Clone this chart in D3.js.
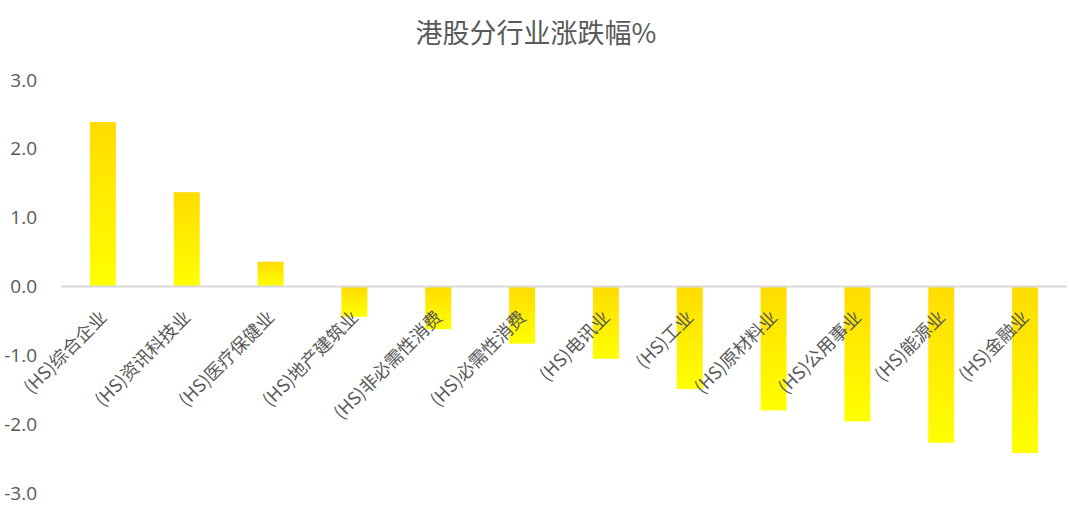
<!DOCTYPE html>
<html>
<head>
<meta charset="utf-8">
<script src="https://cdn.jsdelivr.net/npm/d3@7"></script>
<style>
  html, body { margin: 0; padding: 0; background: #fff; }
  svg { display: block; }
  text { font-family: "Microsoft YaHei", "Noto Sans CJK SC", "Noto Sans", sans-serif; fill: #595959; }
</style>
</head>
<body>
<svg id="chart" width="1071" height="513"></svg>
<script>
const title = "港股分行业涨跌幅%";
const categories = ["(HS)综合企业", "(HS)资讯科技业", "(HS)医疗保健业", "(HS)地产建筑业", "(HS)非必需性消费", "(HS)必需性消费", "(HS)电讯业", "(HS)工业", "(HS)原材料业", "(HS)公用事业", "(HS)能源业", "(HS)金融业"];
const values = [2.39, 1.37, 0.36, -0.44, -0.62, -0.83, -1.05, -1.49, -1.80, -1.96, -2.27, -2.42];
const yTicks = [3, 2, 1, 0, -1, -2, -3];

const svg = d3.select("#chart");
const plotLeft = 61, plotRight = 1067, plotTop = 80, plotBottom = 493;

const defs = svg.append("defs");
const grad = defs.append("linearGradient").attr("id", "barGrad")
  .attr("x1", 0).attr("y1", 0).attr("x2", 0).attr("y2", 1);
grad.append("stop").attr("offset", "0%").attr("stop-color", "#FFDC00");
grad.append("stop").attr("offset", "100%").attr("stop-color", "#FFFF00");

const x = d3.scaleBand().domain(categories).range([plotLeft, plotRight]).paddingInner(0.69).paddingOuter(0.345);
const y = d3.scaleLinear().domain([-3, 3]).range([plotBottom, plotTop]);

// title
svg.append("text").attr("x", 536).attr("y", 43).attr("text-anchor", "middle")
  .style("font-size", "27px").text(title);

// y axis labels
const yAxis = d3.axisLeft(y).tickValues(yTicks).tickFormat(d => d.toFixed(1)).tickSize(0).tickPadding(0);
const gy = svg.append("g").attr("transform", "translate(37,0)").call(yAxis);
gy.select(".domain").remove();
gy.selectAll("text").style("font-size", "19px").attr("fill", "#595959")
  .style("font-family", "\"Open Sans\", \"Noto Sans\", sans-serif");

// bars
svg.append("g").selectAll("rect").data(values).join("rect")
  .attr("x", (d, i) => x(categories[i]))
  .attr("width", x.bandwidth())
  .attr("y", d => Math.min(y(d), y(0)))
  .attr("height", d => Math.abs(y(d) - y(0)))
  .attr("fill", "url(#barGrad)");

// zero line
svg.append("line").attr("x1", plotLeft).attr("x2", plotRight).attr("y1", y(0)).attr("y2", y(0))
  .attr("stroke", "#D9D9D9").attr("stroke-width", 2);

// category labels
svg.append("g").selectAll("text").data(categories).join("text")
  .attr("text-anchor", "end")
  .attr("transform", d => `translate(${x(d) + x.bandwidth() / 2 + 5},${y(0) + 32}) rotate(-45)`)
  .style("font-size", "18px")
  .text(d => d);
</script>
</body>
</html>
